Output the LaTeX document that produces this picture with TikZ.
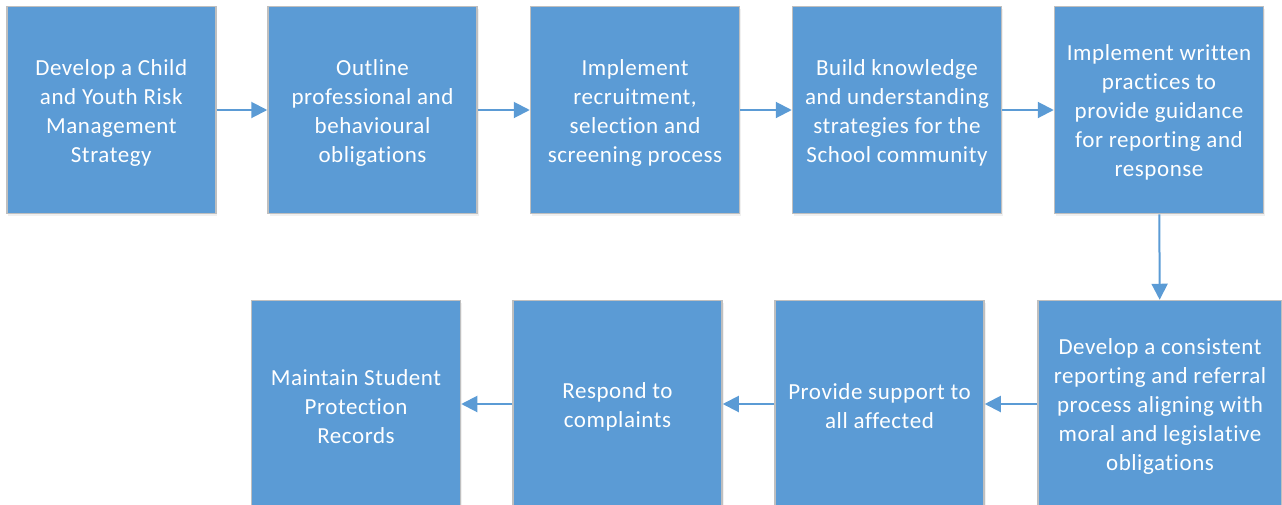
\documentclass[tikz,border=0pt]{standalone}
\usepackage{fontspec}
\setmainfont{Carlito}[LetterSpace=2.5,Ligatures=NoCommon]
\usetikzlibrary{arrows.meta,shadows}
\definecolor{boxblue}{HTML}{5B9BD5}
\definecolor{boxedge}{HTML}{BFBFBF}
\tikzset{
  stepbox/.style={draw=boxedge, line width=1.5pt, fill=boxblue,
    minimum width=209pt, minimum height=207pt, inner sep=0pt,
    drop shadow={opacity=0.12, shadow xshift=1.5pt, shadow yshift=-2.5pt}},
  steptext/.style={text=white, inner sep=0pt, align=center,
    font=\fontsize{23}{29}\selectfont},
  flow/.style={draw=boxblue, line width=2pt, -{Triangle[length=16pt,width=16pt]}}
}
\begin{document}
\begin{tikzpicture}[x=1pt,y=-1pt]
\useasboundingbox (0,0) rectangle (1282,504);
\node[stepbox] (s1) at (111.25,110) {};
\node[stepbox] (s2) at (372.5,110) {};
\node[stepbox] (s3) at (635,110) {};
\node[stepbox] (s4) at (897,110) {};
\node[stepbox] (s5) at (1159,110) {};
\node[stepbox, minimum width=244pt] (s6) at (1160,404) {};
\node[stepbox] (s7) at (879.5,404) {};
\node[stepbox] (s8) at (617.5,404) {};
\node[stepbox] (s9) at (356,404) {};
\node[steptext] (t1) at ([yshift=-2.5pt]s1.center) {Develop a Child\\and Youth Risk\\Management\\Strategy};
\node[steptext] (t2) at ([yshift=-2.5pt]s2.center) {Outline\\professional and\\behavioural\\obligations};
\node[steptext] (t3) at ([yshift=-2.5pt]s3.center) {Implement\\recruitment,\\selection and\\screening process};
\node[steptext] (t4) at ([yshift=-2.5pt]s4.center) {Build knowledge\\and understanding\\strategies for the\\School community};
\node[steptext] (t5) at ([yshift=-2.5pt]s5.center) {Implement written\\practices to\\provide guidance\\for reporting and\\response};
\node[steptext] (t6) at ([yshift=-2.5pt]s6.center) {Develop a consistent\\reporting and referral\\process aligning with\\moral and legislative\\obligations};
\node[steptext] (t7) at ([yshift=-2.5pt]s7.center) {Provide support to\\all affected};
\node[steptext] (t8) at ([yshift=-2.5pt]s8.center) {Respond to\\complaints};
\node[steptext] (t9) at ([yshift=-2.5pt]s9.center) {Maintain Student\\Protection\\Records};
\draw[flow] (s1) -- (s2);
\draw[flow] (s2) -- (s3);
\draw[flow] (s3) -- (s4);
\draw[flow] (s4) -- (s5);
\draw[flow] (s5) -- (s6);
\draw[flow] (s6) -- (s7);
\draw[flow] (s7) -- (s8);
\draw[flow] (s8) -- (s9);
\end{tikzpicture}
\end{document}
